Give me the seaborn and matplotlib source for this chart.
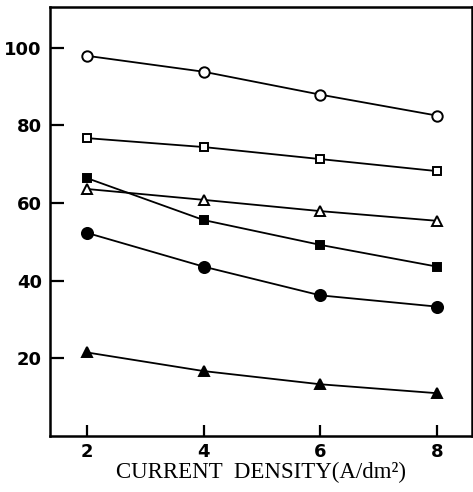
import numpy as np
import pandas as pd
import matplotlib
matplotlib.use('Agg')
import matplotlib.pyplot as plt
import seaborn as sns

# current density (A/dm2)
density = [2, 4, 6, 8]

open_circle = [97.9, 93.8, 87.9, 82.5]
open_square = [76.7, 74.4, 71.3, 68.2]
open_triangle = [63.6, 60.8, 57.9, 55.4]
filled_square = [66.4, 55.6, 49.2, 43.6]
filled_circle = [52.3, 43.6, 36.2, 33.3]
filled_triangle = [21.5, 16.7, 13.3, 11.0]

series = {
    'open_circle': open_circle,
    'open_square': open_square,
    'open_triangle': open_triangle,
    'filled_square': filled_square,
    'filled_circle': filled_circle,
    'filled_triangle': filled_triangle,
}
styles = {
    'open_circle': ('o', 'white', 7.5),
    'open_square': ('s', 'white', 6),
    'open_triangle': ('^', 'white', 7),
    'filled_square': ('s', 'black', 6),
    'filled_circle': ('o', 'black', 8),
    'filled_triangle': ('^', 'black', 7),
}

df = pd.concat([pd.DataFrame({'x': density, 'y': v, 'name': k}) for k, v in series.items()])

sns.set_style('white')
fig = plt.figure(figsize=(4.73, 4.92), dpi=100)
ax = fig.add_axes([0.106, 0.114, 0.892, 0.872])

for name in series:
    marker, face, ms = styles[name]
    sns.lineplot(data=df[df['name'] == name], x='x', y='y', ax=ax, color='black',
                 linewidth=1.3, marker=marker, markersize=ms, markerfacecolor=face,
                 markeredgecolor='black', markeredgewidth=1.4, legend=False)

ax.set_xlim(1.37, 8.6)
ax.set_ylim(0, 110.5)
ax.set_xticks(density)
ax.set_xticklabels(['2', '4', '6', '8'])
ax.set_yticks([20, 40, 60, 80, 100])
ax.tick_params(axis='y', left=True, direction='in', length=10, width=1.6, colors='black', pad=6)
ax.tick_params(axis='x', bottom=True, direction='in', length=8, width=1.6, colors='black', pad=5)
for lab in ax.get_yticklabels() + ax.get_xticklabels():
    lab.set_fontweight('bold')
    lab.set_fontsize(13)
    lab.set_family('DejaVu Sans')

for s in ax.spines.values():
    s.set_color('black')
    s.set_linewidth(1.8)

ax.set_ylabel('')
ax.set_xlabel('CURRENT  DENSITY(A/dm²)', family='Liberation Serif', fontsize=16.5,
              labelpad=1, color='black')

fig.savefig('out.png', dpi=100)
